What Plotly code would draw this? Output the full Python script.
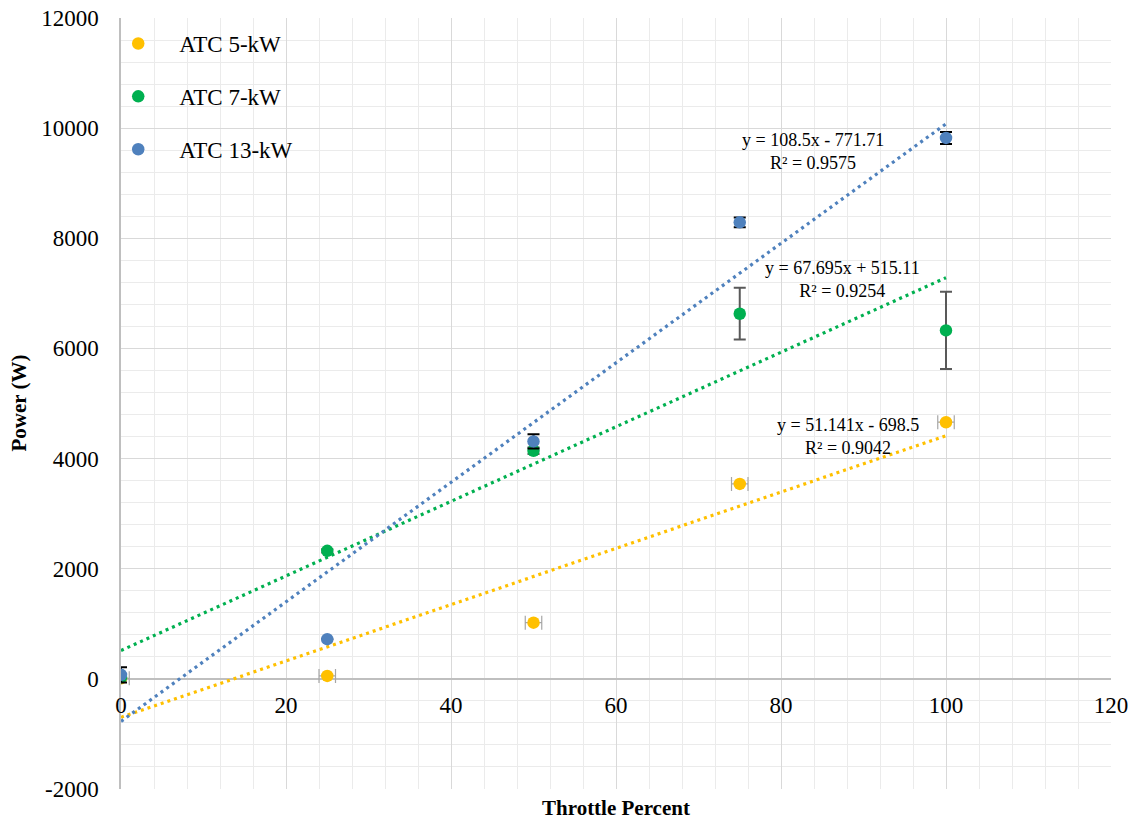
import plotly.graph_objects as go

# Throttle settings (%) shared by all three turbines
throttle = [0, 25, 50, 75, 100]

# Measured mean power (W) per turbine
power_5kw = [10, 54, 1020, 3540, 4660]
power_7kw = [30, 2325, 4142, 6630, 6327]
power_13kw = [73, 721, 4311, 8289, 9822]

# Error bar half-widths
err_5kw_x = [1, 1, 1, 1, 1]
err_5kw_y = [20, 20, 20, 20, 20]
err_7kw_y = [0, 30, 60, 470, 700]
err_13kw_y = [140, 0, 130, 90, 110]

# Linear trendline coefficients (slope, intercept) and R² values
fit_5kw = (51.141, -698.5, 0.9042)
fit_7kw = (67.695, 515.11, 0.9254)
fit_13kw = (108.5, -771.71, 0.9575)

names = ["ATC 5-kW", "ATC 7-kW", "ATC 13-kW"]
colors = ["#FFC000", "#00B050", "#4F81BD"]

x_ticks = [0, 20, 40, 60, 80, 100, 120]
y_ticks = [-2000, 0, 2000, 4000, 6000, 8000, 10000, 12000]

FONT = "Liberation Serif"

fig = go.Figure()

# Dotted linear trendlines across the measured throttle span
for (m, b, _), col in zip([fit_5kw, fit_7kw, fit_13kw], colors):
    xs = [throttle[0], throttle[-1]]
    fig.add_trace(go.Scatter(
        x=xs, y=[m * v + b for v in xs], mode="lines",
        line=dict(color=col, width=3.2, dash="3px,4px"),
        showlegend=False, hoverinfo="skip"))

series = [
    (power_5kw, dict(type="data", array=err_5kw_y, color="#404040", thickness=1, width=3),
     dict(type="data", array=err_5kw_x, color="#A6A6A6", thickness=1.2, width=7)),
    (power_7kw, dict(type="data", array=err_7kw_y, color="#595959", thickness=2, width=6), None),
    (power_13kw, dict(type="data", array=err_13kw_y, color="#000000", thickness=2, width=6), None),
]

for i, ((ys, ey, ex), name, col) in enumerate(zip(series, names, colors)):
    kw = dict(error_y=ey)
    if ex is not None:
        kw["error_x"] = ex
    fig.add_trace(go.Scatter(
        x=throttle, y=ys, mode="markers", name=name,
        marker=dict(color=col, size=12.5),
        legendgroup=f"g{i}", **kw))

# Trendline equation labels
eq_pos = [(88.1, 4405), (87.4, 7257), (83.9, 9578)]
for (m, b, r2), (px, py) in zip([fit_5kw, fit_7kw, fit_13kw], eq_pos):
    sign = "+" if b >= 0 else "-"
    txt = f"y = {m:g}x {sign} {abs(b):g}<br>R² = {r2:.4f}"
    fig.add_annotation(x=px, y=py, xref="x", yref="y", text=txt, showarrow=False,
                       font=dict(family=FONT, size=18, color="#000"), align="center")

# Axis titles
fig.add_annotation(xref="paper", yref="paper", x=0.5, y=0, yshift=-19, yanchor="middle",
                   text="<b>Throttle Percent</b>", showarrow=False,
                   font=dict(family=FONT, size=21, color="#000"))
fig.add_annotation(xref="paper", yref="paper", x=0, xshift=-103, y=0.5, textangle=-90,
                   xanchor="center", yanchor="middle",
                   text="<b>Power (W)</b>", showarrow=False,
                   font=dict(family=FONT, size=21, color="#000"))

fig.update_layout(
    width=1139, height=821,
    margin=dict(l=121, r=28, t=18, b=32, autoexpand=False),
    paper_bgcolor="white", plot_bgcolor="white",
    font=dict(family=FONT, size=23, color="#000"),
    showlegend=True,
    legend=dict(x=-0.024, y=0.9948, xanchor="left", yanchor="top", bgcolor="rgba(0,0,0,0)",
                font=dict(family=FONT, size=23, color="#000"),
                itemwidth=72, tracegroupgap=20, traceorder="grouped"),
)

fig.update_xaxes(
    range=[0, 120], tickvals=x_ticks, ticktext=[str(v) for v in x_ticks],
    anchor="free", position=2000 / 14000, automargin=False,
    showgrid=True, gridcolor="#D9D9D9", gridwidth=1.3,
    minor=dict(dtick=4, showgrid=True, gridcolor="#EBEBEB", gridwidth=1.3),
    zeroline=False, showline=False, ticks="", ticklabelstandoff=10,
    tickfont=dict(family=FONT, size=23, color="#000"),
)
fig.update_yaxes(
    range=[-2000, 12000], tickvals=y_ticks, ticktext=[str(v) for v in y_ticks],
    automargin=False,
    showgrid=True, gridcolor="#D9D9D9", gridwidth=1.3,
    minor=dict(dtick=400, showgrid=True, gridcolor="#EBEBEB", gridwidth=1.3),
    zeroline=True, zerolinecolor="#BFBFBF", zerolinewidth=1.5,
    showline=True, linecolor="#BFBFBF", linewidth=1.5,
    ticks="", ticklabelstandoff=16,
    tickfont=dict(family=FONT, size=23, color="#000"),
)

fig.write_html("out.html")
